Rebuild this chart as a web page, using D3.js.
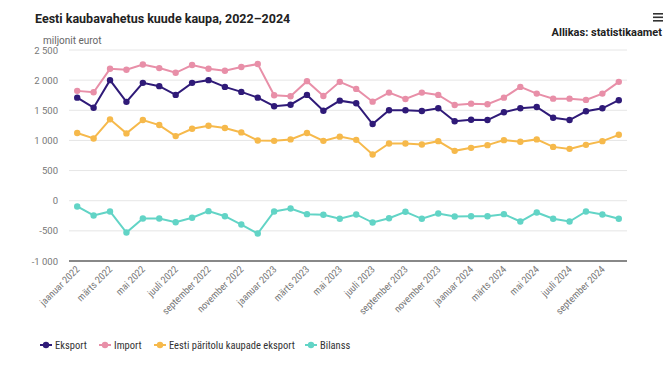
<!DOCTYPE html>
<html>
<head>
<meta charset="utf-8">
<script src="https://cdn.jsdelivr.net/npm/d3@7"></script>
<style>
  body { margin: 0; background: #fff; font-family: Roboto, sans-serif; }
  svg text { font-family: Roboto, sans-serif; }
  svg text.narrow { font-family: "Liberation Sans Narrow", "Roboto Condensed", Roboto, sans-serif; }
</style>
</head>
<body>
<script>
const months = ['jaanuar', 'veebruar', 'märts', 'aprill', 'mai', 'juuni', 'juuli', 'august', 'september', 'oktoober', 'november', 'detsember']
const periods = []
for (const y of [2022, 2023, 2024]) {
  months.forEach(function (m, i) { if (y < 2024 || i < 10) periods.push(m + ' ' + y) })
}

const eksport = [1710, 1543, 2000, 1640, 1955, 1900, 1755, 1955, 2000, 1888, 1805, 1710,
  1567, 1593, 1755, 1493, 1660, 1617, 1272, 1500, 1500, 1488, 1533, 1317,
  1343, 1338, 1467, 1533, 1555, 1377, 1338, 1483, 1533, 1667]
const importVals = [1822, 1800, 2188, 2172, 2260, 2200, 2122, 2250, 2188, 2155, 2217, 2267,
  1750, 1733, 1983, 1738, 1972, 1855, 1643, 1793, 1688, 1793, 1755, 1588,
  1610, 1600, 1710, 1888, 1777, 1693, 1693, 1672, 1777, 1972]
const eestiEksport = [1122, 1033, 1350, 1117, 1338, 1255, 1072, 1193, 1243, 1205, 1133, 1000,
  993, 1017, 1122, 993, 1063, 1010, 767, 950, 950, 933, 988, 827,
  877, 922, 1005, 977, 1017, 893, 860, 927, 988, 1093]
const bilanss = [-95, -245, -178, -528, -295, -295, -357, -283, -173, -257, -395, -545,
  -178, -128, -223, -233, -300, -228, -362, -290, -183, -300, -212, -262,
  -257, -257, -223, -345, -195, -300, -345, -178, -228, -300]

const yTicks = [2500, 2000, 1500, 1000, 500, 0, -500, -1000]

const series = [
  { name: 'Eksport', values: eksport, color: '#2f1a78' },
  { name: 'Import', values: importVals, color: '#e88fa8' },
  { name: 'Eesti päritolu kaupade eksport', values: eestiEksport, color: '#f6b94b' },
  { name: 'Bilanss', values: bilanss, color: '#62d4c6' }
]

const W = 672, H = 385
const margin = { top: 50, right: 45, bottom: 124, left: 69 }
const width = W - margin.left - margin.right
const height = H - margin.top - margin.bottom

const svg = d3.select('body').append('svg')
  .attr('width', W)
  .attr('height', H)

const xScale = d3.scalePoint().domain(periods).range([0, width]).padding(0.5)
const yScale = d3.scaleLinear().domain([-1000, 2500]).range([height, 0])
const fmt = function (v) { return d3.format(',')(v).replace(/,/g, ' ').replace('−', '-') }

// Title and texts
svg.append('text')
  .attr('x', 35).attr('y', 23)
  .style('font-size', '12.5px').style('font-weight', 'bold').attr('fill', '#222')
  .text('Eesti kaubavahetus kuude kaupa, 2022–2024')

svg.append('text')
  .attr('x', 662).attr('y', 36).attr('text-anchor', 'end')
  .style('font-size', '11px').style('font-weight', 'bold').attr('fill', '#222')
  .text('Allikas: statistikaamet')

svg.append('text')
  .attr('x', 43).attr('y', 44)
  .style('font-size', '10px').attr('fill', '#666')
  .text('miljonit eurot')

// hamburger icon
svg.append('g').selectAll('rect').data([0, 1, 2]).enter().append('rect')
  .attr('x', 653).attr('y', function (d) { return 13 + d * 3.5 })
  .attr('width', 10).attr('height', 1.6).attr('fill', '#333')

const g = svg.append('g')
  .attr('transform', 'translate(' + margin.left + ',' + margin.top + ')')

// Grid
g.append('g').selectAll('line').data(yTicks).enter().append('line')
  .attr('x1', 0).attr('x2', width)
  .attr('y1', function (d) { return yScale(d) }).attr('y2', function (d) { return yScale(d) })
  .attr('stroke', function (d) { return d === -1000 ? '#888' : '#e6e6e6' })
  .attr('stroke-width', function (d) { return d === -1000 ? 2 : 1 })

// Y-Axis labels
g.append('g').selectAll('text').data(yTicks).enter().append('text')
  .attr('x', -11).attr('y', function (d) { return yScale(d) + 3.5 })
  .attr('text-anchor', 'end')
  .style('font-size', '9.5px').attr('fill', '#777')
  .text(fmt)

// X-Axis labels (every second month)
g.append('g').selectAll('text')
  .data(periods.filter(function (d, i) { return i % 2 === 0 }))
  .enter().append('text')
  .attr('class', 'narrow')
  .attr('transform', function (d) { return 'translate(' + (xScale(d) + 3) + ',' + (height + 9) + ') rotate(-45)' })
  .attr('text-anchor', 'end')
  .style('font-size', '10px').attr('fill', '#777')
  .text(function (d) { return d })

// Lines
const line = d3.line()
  .x(function (d, i) { return xScale(periods[i]) })
  .y(function (d) { return yScale(d) })

series.forEach(function (s) {
  g.append('path')
    .datum(s.values)
    .attr('d', line)
    .attr('fill', 'none')
    .attr('stroke', s.color)
    .attr('stroke-width', 2)

  g.append('g').selectAll('circle').data(s.values).enter().append('circle')
    .attr('cx', function (d, i) { return xScale(periods[i]) })
    .attr('cy', function (d) { return yScale(d) })
    .attr('r', 3.2)
    .attr('fill', s.color)
})

// Legend
const legendX = [40, 99, 154, 305]
const legend = svg.append('g').selectAll('g').data(series).enter().append('g')
  .attr('transform', function (d, i) { return 'translate(' + legendX[i] + ',345)' })

legend.append('line')
  .attr('x1', 0).attr('x2', 12).attr('y1', 0).attr('y2', 0)
  .attr('stroke', function (d) { return d.color }).attr('stroke-width', 2)
legend.append('circle')
  .attr('cx', 6).attr('cy', 0).attr('r', 3.2)
  .attr('fill', function (d) { return d.color })
legend.append('text')
  .attr('class', 'narrow')
  .attr('x', 15).attr('y', 4)
  .style('font-size', '10.5px').attr('fill', '#333')
  .text(function (d) { return d.name })
</script>
</body>
</html>
